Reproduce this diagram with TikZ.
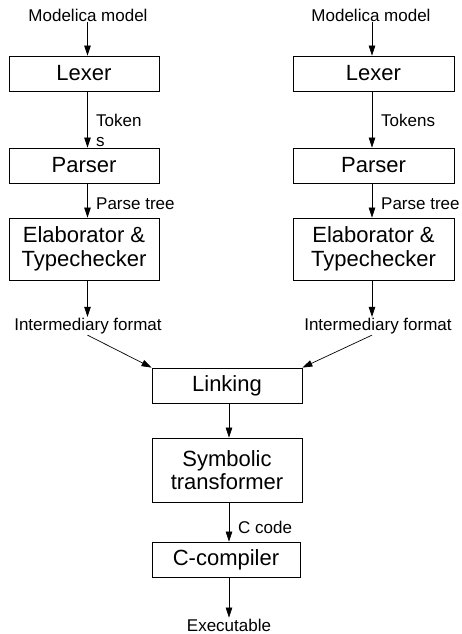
\documentclass[tikz,border=0pt]{standalone}
\usepackage{fontspec}
\setmainfont{Liberation Sans}
\usetikzlibrary{arrows.meta}
\begin{document}
\begin{tikzpicture}[x=1pt,y=-1pt,
  box/.style={draw, line width=0.8pt, minimum width=150pt, inner sep=0pt, align=center,
    font=\fontsize{22}{23.5}\selectfont},
  lbl/.style={inner sep=1pt, font=\fontsize{17}{20}\selectfont},
  arr/.style={-{Triangle[width=6.5pt,length=10pt]}, line width=0.7pt}]
\useasboundingbox (0,0) rectangle (461,634);
% left column
\node[lbl] (mm1) at (88,15) {Modelica model};
\node[box, minimum height=35pt] (lex1) at (84,73.5) {Lexer};
\node[box, minimum height=35pt] (par1) at (84,165.5) {Parser};
\node[box, minimum height=62pt] (ela1) at (84,249) {Elaborator \&\\Typechecker};
\node[lbl] (im1) at (88,326) {Intermediary format};
\node[lbl, anchor=west, align=left, font=\fontsize{17}{20}\selectfont] (tok1) at (95,130) {Token\\s};
\node[lbl, anchor=west] (pt1) at (95,204) {Parse tree};
% right column
\node[lbl] (mm2) at (371,15) {Modelica model};
\node[box, minimum width=161pt, minimum height=35pt] (lex2) at (373.5,73.5) {Lexer};
\node[box, minimum width=161pt, minimum height=35pt] (par2) at (373.5,165.5) {Parser};
\node[box, minimum width=161pt, minimum height=62pt] (ela2) at (373.5,249) {Elaborator \&\\Typechecker};
\node[lbl] (im2) at (378,326) {Intermediary format};
\node[lbl, anchor=west] (tok2) at (380,120) {Tokens};
\node[lbl, anchor=west] (pt2) at (380,204) {Parse tree};
% bottom
\node[box, minimum height=35pt] (lnk) at (227,385.5) {Linking};
\node[box, minimum height=64pt] (sym) at (227,470) {Symbolic\\transformer};
\node[box, minimum width=148pt, minimum height=35pt] (cc) at (226,559.5) {C-compiler};
\node[lbl, anchor=west] (ccode) at (237,527) {C code};
\node[lbl] (exe) at (229,625) {Executable};
\coordinate (cb) at (229,0);
\coordinate (cl) at (87.5,0);
\coordinate (cr) at (372,0);
% arrows left
\draw[arr] (mm1.south -| cl) -- (lex1.north -| cl);
\draw[arr] (lex1.south -| cl) -- (par1.north -| cl);
\draw[arr] (par1.south -| cl) -- (ela1.north -| cl);
\draw[arr] (ela1.south -| cl) -- (im1.north -| cl);
% arrows right
\draw[arr] (mm2.south -| cr) -- (lex2.north -| cr);
\draw[arr] (lex2.south -| cr) -- (par2.north -| cr);
\draw[arr] (par2.south -| cr) -- (ela2.north -| cr);
\draw[arr] (ela2.south -| cr) -- (im2.north -| cr);
% merge
\draw[arr] (im1.south -| cl) -- (lnk.north west);
\draw[arr] (im2.south -| cr) -- (lnk.north east);
\draw[arr] (lnk.south -| cb) -- (sym.north -| cb);
\draw[arr] (sym.south -| cb) -- (cc.north -| cb);
\draw[arr] (cc.south -| cb) -- (exe.north -| cb);
\end{tikzpicture}
\end{document}
